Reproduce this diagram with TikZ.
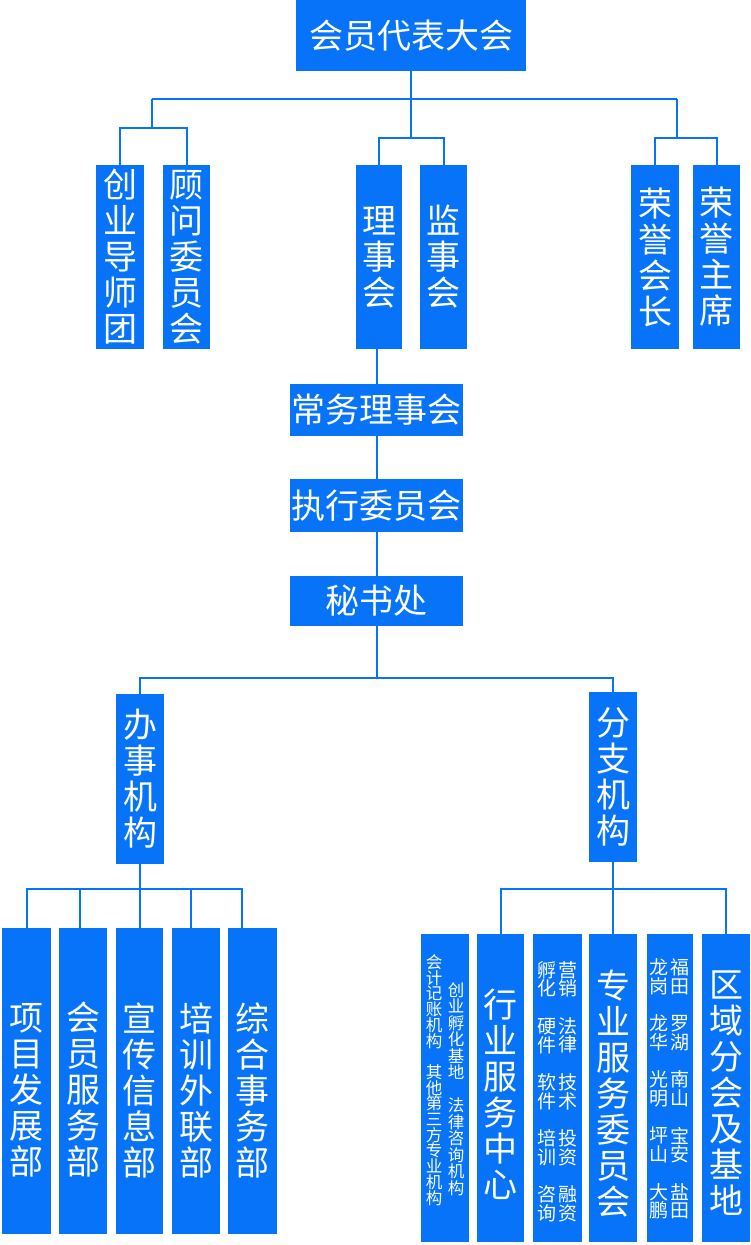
\documentclass[tikz,border=0pt]{standalone}
\usepackage{fontspec}
\setmainfont{Noto Sans CJK SC}
\usetikzlibrary{calc}
\definecolor{bl}{RGB}{6,115,248}
\begin{document}
\begin{tikzpicture}[x=1pt,y=-1pt,
 box/.style={fill=bl, draw=none, inner sep=0pt, outer sep=0pt, anchor=north west},
 conn/.style={draw=bl, line width=2pt},
 big/.style={text=white, inner sep=0pt, align=center, font=\fontsize{34}{36}\selectfont},
 mid/.style={text=white, inner sep=0pt, align=center, font=\fontsize{19}{18.7}\selectfont},
 smA/.style={text=white, inner sep=0pt, align=center, font=\fontsize{16.5}{15.7}\selectfont},
 smB/.style={text=white, inner sep=0pt, align=center, font=\fontsize{16.5}{16.5}\selectfont}]
\useasboundingbox (0,0) rectangle (750,1245);
\fill[white] (0,0) rectangle (750,1245);

% ---------- boxes ----------
\node[box, minimum width=230pt, minimum height=71pt] (top) at (296,0) {};
\node[box, minimum width=48pt, minimum height=184pt] (chuangye) at (96,165) {};
\node[box, minimum width=47pt, minimum height=184pt] (guwen) at (163,165) {};
\node[box, minimum width=46pt, minimum height=184pt] (lishi) at (356,165) {};
\node[box, minimum width=47pt, minimum height=184pt] (jianshi) at (420,165) {};
\node[box, minimum width=48pt, minimum height=184pt] (ryhz) at (631,165) {};
\node[box, minimum width=47pt, minimum height=184pt] (ryzx) at (693,165) {};

\node[box, minimum width=173pt, minimum height=52pt] (changwu) at (290,384) {};
\node[box, minimum width=173pt, minimum height=53pt] (zhixing) at (290,479) {};
\node[box, minimum width=173pt, minimum height=50pt] (mishu) at (290,576) {};

\node[box, minimum width=48pt, minimum height=170pt] (banshi) at (116,694) {};
\node[box, minimum width=48pt, minimum height=170pt] (fenzhi) at (589,692) {};

\node[box, minimum width=49pt, minimum height=306pt] (b1) at (2,928) {};
\node[box, minimum width=48pt, minimum height=306pt] (b2) at (59,928) {};
\node[box, minimum width=47pt, minimum height=306pt] (b3) at (116,928) {};
\node[box, minimum width=48pt, minimum height=306pt] (b4) at (172,928) {};
\node[box, minimum width=49pt, minimum height=306pt] (b5) at (228,928) {};

\node[box, minimum width=48pt, minimum height=308pt] (r1) at (421,934) {};
\node[box, minimum width=47pt, minimum height=308pt] (r2) at (477,934) {};
\node[box, minimum width=49pt, minimum height=308pt] (r3) at (533,934) {};
\node[box, minimum width=48pt, minimum height=308pt] (r4) at (589,934) {};
\node[box, minimum width=46pt, minimum height=308pt] (r5) at (647,934) {};
\node[box, minimum width=48pt, minimum height=308pt] (r6) at (702,934) {};

% ---------- connectors ----------
\coordinate (ja) at (152,99);
\coordinate (jb) at (677,99);
\coordinate (jl) at (152,128);
\coordinate (jm) at (411,138);
\coordinate (jr) at (677,138);
\draw[conn] (top.south) -- (jm);
\draw[conn] (ja) -- (jb);
\draw[conn] (ja) -- (jl);
\draw[conn] (jb) -- (jr);
\draw[conn] (chuangye.north) -- (chuangye.north |- jl) -- (guwen.north |- jl) -- (guwen.north);
\draw[conn] (lishi.north) -- (lishi.north |- jm) -- (jianshi.north |- jm) -- (jianshi.north);
\draw[conn] (ryhz.north) -- (ryhz.north |- jr) -- (ryzx.north |- jr) -- (ryzx.north);

\draw[conn] (lishi.south -| changwu.north) -- (changwu.north);
\draw[conn] (changwu.south) -- (zhixing.north);
\draw[conn] (zhixing.south) -- (mishu.north);
\coordinate (jc) at (376.5,678);
\draw[conn] (mishu.south) -- (jc);
\draw[conn] (banshi.north) -- (banshi.north |- jc) -- (fenzhi.north |- jc) -- (fenzhi.north);

\coordinate (jd) at (140,889);
\coordinate (v2) at ([xshift=-3pt]b2.north);
\coordinate (v4) at ([xshift=-5pt]b4.north);
\coordinate (v5) at ([xshift=-10.5pt]b5.north);
\draw[conn] (banshi.south) -- (jd);
\draw[conn] (b1.north) -- (b1.north |- jd) -- (v5 |- jd) -- (v5);
\draw[conn] (v2 |- jd) -- (v2);
\draw[conn] (b3.north |- jd) -- (b3.north);
\draw[conn] (v4 |- jd) -- (v4);

\coordinate (je) at (613,889);
\draw[conn] (fenzhi.south) -- (je);
\draw[conn] (r2.north) -- (r2.north |- je) -- (r6.north |- je) -- (r6.north);
\draw[conn] (r4.north |- je) -- (r4.north);

% ---------- texts ----------
\node[big] (t-top) at (top.center) {会员代表大会};
\node[big] (t-chuangye) at (chuangye.center) {创\\业\\导\\师\\团};
\node[big] (t-guwen) at (guwen.center) {顾\\问\\委\\员\\会};
\node[big] (t-lishi) at (lishi.center) {理\\事\\会};
\node[big] (t-jianshi) at (jianshi.center) {监\\事\\会};
\node[big] (t-ryhz) at (ryhz.center) {荣\\誉\\会\\长};
\node[big] (t-ryzx) at (ryzx.center) {荣\\誉\\主\\席};
\node[big] (t-changwu) at (changwu.center) {常务理事会};
\node[big] (t-zhixing) at (zhixing.center) {执行委员会};
\node[big] (t-mishu) at (mishu.center) {秘书处};
\node[big] (t-banshi) at (banshi.center) {办\\事\\机\\构};
\node[big] (t-fenzhi) at (fenzhi.center) {分\\支\\机\\构};

\node[big] (t-b1) at (b1.center |- 0,1090) {项\\目\\发\\展\\部};
\node[big] (t-b2) at (b2.center |- 0,1090) {会\\员\\服\\务\\部};
\node[big] (t-b3) at (b3.center |- 0,1090) {宣\\传\\信\\息\\部};
\node[big] (t-b4) at (b4.center |- 0,1090) {培\\训\\外\\联\\部};
\node[big] (t-b5) at (b5.center |- 0,1090) {综\\合\\事\\务\\部};

\node[smA] (t-r1a) at (434,1080) {会\\计\\记\\账\\机\\构\\[15.7pt]其\\他\\第\\三\\方\\专\\业\\机\\构};
\node[smB] (t-r1b) at (456,1089) {创\\业\\孵\\化\\基\\地\\[16.5pt]法\\律\\咨\\询\\机\\构};
\node[big] (t-r2) at (r2.center |- 0,1094) {行\\业\\服\\务\\中\\心};
\node[mid] (t-r3a) at (547,1091.5) {孵\\化\\[18.7pt]硬\\件\\[18.7pt]软\\件\\[18.7pt]培\\训\\[18.7pt]咨\\询};
\node[mid] (t-r3b) at (567.5,1091.5) {营\\销\\[18.7pt]法\\律\\[18.7pt]技\\术\\[18.7pt]投\\资\\[18.7pt]融\\资};
\node[big] (t-r4) at (r4.center |- 0,1094) {专\\业\\服\\务\\委\\员\\会};
\node[mid] (t-r5a) at (659,1089) {龙\\岗\\[18.7pt]龙\\华\\[18.7pt]光\\明\\[18.7pt]坪\\山\\[18.7pt]大\\鹏};
\node[mid] (t-r5b) at (679.5,1089) {福\\田\\[18.7pt]罗\\湖\\[18.7pt]南\\山\\[18.7pt]宝\\安\\[18.7pt]盐\\田};
\node[big] (t-r6) at (r6.center |- 0,1093) {区\\域\\分\\会\\及\\基\\地};
\end{tikzpicture}
\end{document}
